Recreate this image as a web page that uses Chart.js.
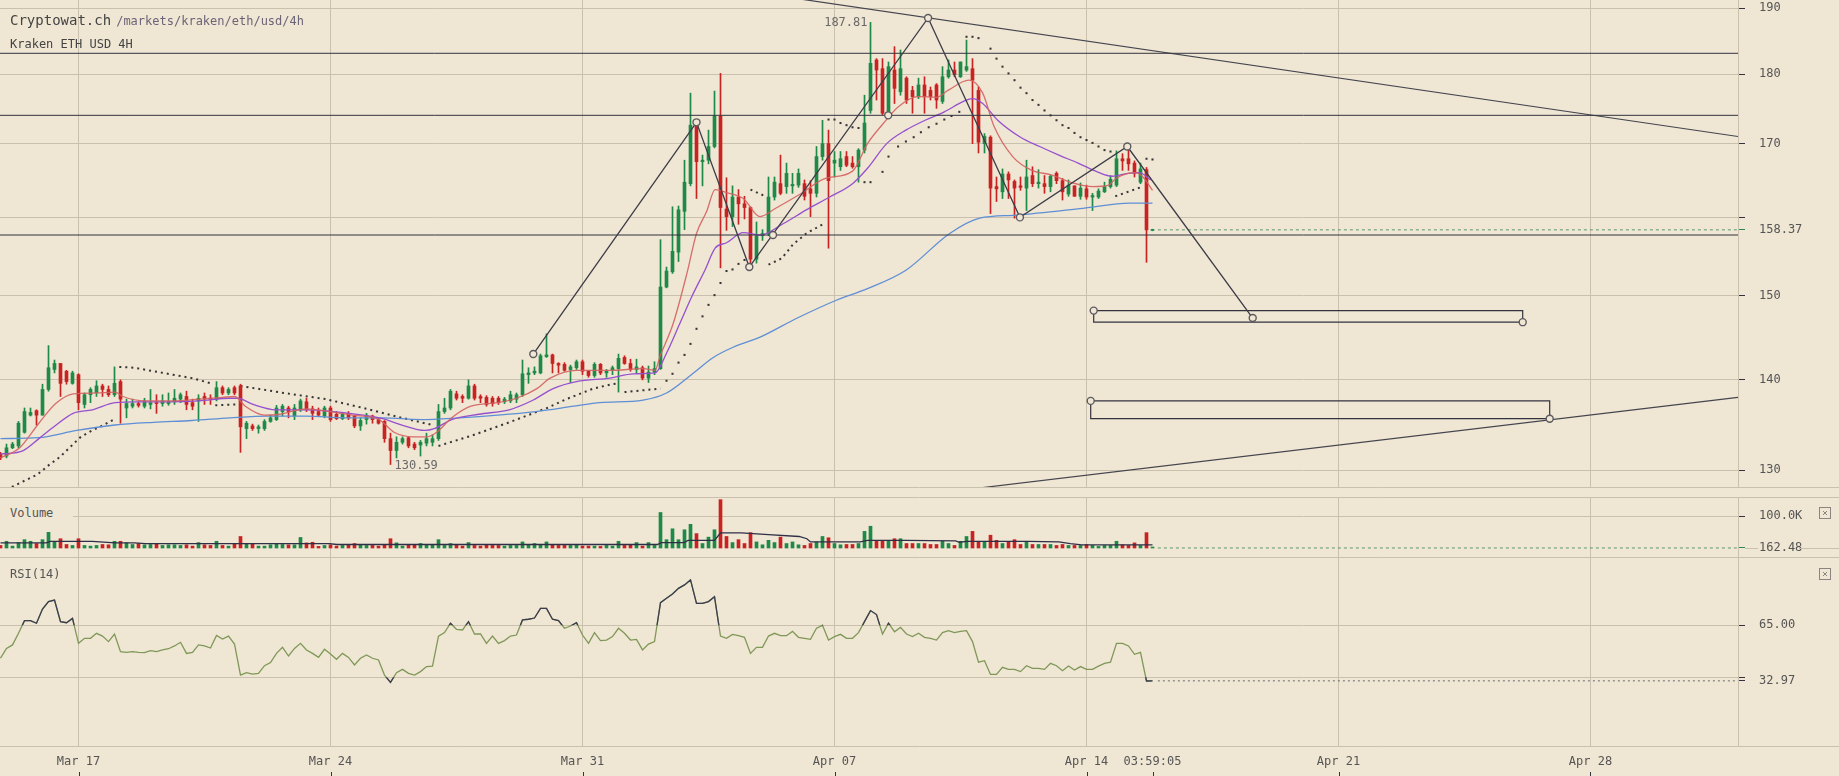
<!DOCTYPE html>
<html lang="en">
<head>
  <meta charset="UTF-8">
  <title>Kraken ETH USD 4H</title>
  <script src="https://cdn.jsdelivr.net/npm/chart.js"></script>
  <style>
    body {
      margin: 0;
      width: 1839px;
      height: 776px;
      overflow: hidden;
      position: relative;
      background-color: #efe6d3;
      font-family: "DejaVu Sans Mono", monospace;
      color: #444;
    }
    canvas { position: absolute; left: 0; }
    #priceChart { top: 0; }
    #volChart { top: 497px; }
    #rsiChart { top: 557px; }
    .label { position: absolute; white-space: nowrap; }
    #site { left: 10px; top: 10px; font-size: 14px; line-height: 20px; color: #444; }
    #site span { font-size: 12px; color: #6c6478; margin-left: 5px; }
    #pair { left: 10px; top: 34px; font-size: 12px; line-height: 20px; color: #444; }
    .pane { left: 0; width: 63px; padding-left: 10px; font-size: 12px; line-height: 16px; color: #555; background-color: #efe6d3; }
    #volLabel { top: 505px; }
    #rsiLabel { top: 566px; background: none; }
  </style>
</head>
<body>
<canvas id="priceChart" width="1839" height="488"></canvas>
<canvas id="volChart" width="1839" height="60"></canvas>
<canvas id="rsiChart" width="1839" height="219"></canvas>
<div class="label" id="site">Cryptowat.ch<span>/markets/kraken/eth/usd/4h</span></div>
<div class="label" id="pair">Kraken ETH USD 4H</div>
<div class="label pane" id="volLabel">Volume</div>
<div class="label pane" id="rsiLabel">RSI(14)</div>

<script>
// 4h candles, index 0 = Mar 15 00:00, index 13 = Mar 17 00:00
const open = [
  131.7, 131.5, 132.4, 132.6, 134.1, 136.0, 136.5, 136.0, 138.9, 141.2,
  141.9, 141.0, 139.6, 140.6, 137.2, 138.3, 138.5, 139.3, 138.9, 138.3,
  139.8, 136.8, 137.0, 137.3, 137.0, 137.2, 137.4, 137.3, 137.3, 137.5,
  137.8, 138.1, 137.4, 137.6, 138.1, 137.9, 137.8, 139.1, 138.5, 139.1,
  139.3, 134.5, 134.8, 134.5, 134.5, 135.3, 135.5, 136.4, 136.8, 135.9,
  136.6, 137.5, 136.7, 136.4, 135.9, 136.8, 136.1, 135.6, 136.2, 135.9,
  134.8, 135.5, 135.9, 135.5, 135.3, 133.4, 132.1, 133.0, 133.5, 132.8,
  132.7, 132.9, 133.0, 133.4, 136.4, 136.8, 138.4, 138.1, 137.9, 139.3,
  138.1, 138.0, 137.9, 137.9, 137.5, 137.6, 137.8, 138.3, 140.6, 140.8,
  140.8, 142.7, 142.9, 141.9, 141.8, 141.2, 141.4, 142.1, 141.0, 140.5,
  141.8, 140.8, 141.1, 141.3, 142.6, 141.9, 141.2, 141.4, 140.2, 140.9,
  141.3, 151.1, 153.0, 155.5, 160.8, 164.5, 172.6, 167.5, 167.7, 169.6,
  173.9, 161.1, 160.1, 162.7, 161.8, 161.3, 154.6, 157.6, 157.9, 162.7,
  164.5, 164.1, 164.2, 164.3, 164.5, 163.8, 163.2, 168.2, 170.0, 167.3,
  166.8, 168.2, 167.3, 166.8, 169.1, 174.7, 182.1, 180.8, 174.5, 180.6,
  177.4, 179.4, 177.6, 176.7, 178.4, 177.6, 178.4, 176.0, 179.6, 180.6,
  179.6, 180.6, 180.8, 177.6, 170.0, 170.9, 164.1, 163.4, 165.8, 164.8,
  164.2, 163.9, 165.6, 164.5, 164.5, 164.1, 165.9, 164.9, 163.1, 164.2,
  162.8, 163.8, 162.7, 162.7, 163.4, 164.1, 164.3, 167.9, 167.9, 167.3,
  164.7, 166.4, 158.30
];
const high = [
  131.9, 132.8, 133.0, 135.3, 136.8, 136.8, 136.6, 139.5, 144.0, 142.3,
  141.9, 141.1, 141.0, 140.7, 138.5, 139.1, 139.9, 139.5, 139.3, 141.5,
  140.0, 137.8, 137.8, 137.5, 137.9, 138.9, 138.3, 138.3, 138.5, 138.9,
  138.5, 138.7, 137.8, 138.3, 138.5, 138.3, 139.8, 139.3, 139.1, 139.3,
  139.5, 135.3, 135.0, 134.9, 135.5, 136.0, 137.1, 137.2, 137.0, 137.2,
  137.8, 137.9, 137.0, 136.8, 137.0, 137.0, 136.4, 136.3, 136.4, 136.0,
  135.7, 136.2, 136.0, 135.7, 135.4, 134.0, 133.6, 133.6, 133.6, 133.0,
  133.2, 134.0, 133.8, 137.2, 137.9, 138.9, 138.7, 138.3, 140.0, 139.5,
  138.3, 138.2, 138.1, 138.1, 138.0, 138.7, 138.5, 142.3, 141.4, 141.5,
  143.0, 145.4, 143.0, 142.0, 142.0, 141.7, 142.3, 142.3, 141.1, 142.0,
  141.9, 141.2, 141.6, 143.0, 142.8, 142.4, 142.4, 141.6, 141.6, 142.1,
  157.1, 153.6, 161.4, 161.5, 167.7, 177.2, 172.9, 168.4, 171.9, 177.5,
  180.1, 165.3, 164.2, 163.7, 162.8, 161.4, 159.4, 158.4, 165.4, 165.4,
  168.4, 167.3, 165.9, 166.5, 165.0, 164.9, 169.6, 173.3, 171.9, 168.9,
  168.9, 168.9, 168.2, 169.3, 176.9, 187.81, 182.3, 182.3, 181.8, 184.1,
  183.6, 179.6, 178.2, 179.4, 179.6, 178.1, 178.6, 181.1, 182.1, 181.8,
  181.8, 185.1, 182.3, 178.1, 171.4, 171.1, 165.4, 166.5, 166.1, 165.0,
  165.4, 167.7, 166.8, 166.4, 165.6, 165.7, 166.1, 165.2, 165.0, 164.2,
  164.6, 164.3, 163.2, 163.8, 164.7, 165.6, 169.0, 168.6, 169.5, 167.6,
  167.3, 166.7, 158.45
];
const low = [
  131.1, 131.3, 132.3, 132.4, 134.0, 135.9, 134.9, 136.0, 138.7, 140.8,
  138.1, 139.5, 139.5, 136.6, 136.8, 137.4, 138.1, 138.1, 138.1, 138.1,
  135.1, 135.7, 136.8, 136.9, 136.8, 136.7, 136.2, 137.0, 137.1, 137.2,
  137.4, 136.6, 136.6, 135.3, 137.2, 137.2, 137.6, 138.3, 138.3, 138.3,
  131.9, 133.4, 134.3, 134.0, 134.3, 135.2, 135.4, 135.9, 135.7, 135.5,
  136.4, 136.4, 135.5, 135.9, 135.7, 135.3, 135.5, 135.5, 135.5, 134.6,
  134.3, 135.0, 135.1, 135.0, 133.0, 130.59, 131.3, 132.8, 132.4, 132.2,
  131.5, 132.6, 132.6, 133.2, 136.2, 136.6, 137.7, 137.4, 137.8, 137.7,
  137.4, 137.0, 137.0, 137.2, 137.3, 137.4, 137.4, 138.1, 139.6, 140.6,
  140.7, 142.6, 140.8, 140.8, 141.0, 139.7, 141.2, 140.6, 140.3, 140.3,
  140.6, 140.3, 140.6, 138.6, 141.8, 141.0, 140.8, 140.0, 139.7, 140.6,
  141.2, 151.0, 152.8, 154.3, 158.4, 164.2, 162.5, 164.2, 167.2, 169.4,
  153.5, 158.3, 158.8, 159.1, 159.8, 153.6, 154.1, 157.0, 157.6, 162.3,
  163.0, 163.2, 163.2, 164.0, 162.3, 160.1, 162.7, 167.7, 156.0, 165.4,
  166.3, 166.8, 166.6, 164.7, 168.7, 174.3, 176.2, 174.1, 173.8, 175.7,
  176.9, 175.7, 174.3, 176.4, 174.3, 176.2, 175.0, 175.7, 179.4, 179.6,
  179.5, 180.4, 170.0, 168.7, 168.7, 160.5, 162.1, 162.5, 162.5, 159.9,
  163.6, 160.9, 164.1, 163.9, 163.2, 163.4, 164.5, 162.3, 162.8, 162.8,
  162.4, 162.4, 160.9, 162.5, 163.3, 163.9, 164.1, 166.3, 166.3, 165.4,
  164.5, 154.2, 158.25
];
const close = [
  131.3, 132.4, 132.8, 135.1, 136.4, 136.3, 136.0, 138.9, 141.4, 141.9,
  139.6, 139.8, 140.8, 137.4, 138.3, 138.9, 139.3, 138.9, 138.3, 139.6,
  137.8, 137.3, 137.3, 137.1, 137.6, 137.4, 137.3, 137.6, 137.5, 137.9,
  138.3, 137.2, 137.0, 137.9, 137.8, 137.8, 139.1, 138.5, 138.9, 138.5,
  134.7, 135.1, 134.5, 134.7, 135.3, 135.7, 136.8, 137.0, 136.4, 136.8,
  137.6, 136.6, 136.2, 136.0, 136.8, 135.5, 135.6, 136.1, 135.7, 134.8,
  135.4, 136.0, 135.5, 135.1, 133.4, 132.1, 133.0, 133.4, 132.6, 132.4,
  133.0, 133.4, 133.4, 136.4, 136.8, 138.7, 137.9, 137.9, 139.3, 137.9,
  137.9, 137.2, 137.3, 137.4, 137.8, 138.3, 138.3, 140.7, 140.8, 141.0,
  142.8, 142.9, 141.9, 141.7, 141.1, 141.5, 142.1, 141.0, 140.5, 141.8,
  140.8, 141.0, 141.4, 142.5, 141.9, 141.2, 141.5, 140.2, 140.9, 141.3,
  151.1, 153.1, 155.6, 161.0, 164.7, 172.6, 167.5, 167.7, 169.6, 173.9,
  161.3, 160.1, 162.7, 161.8, 161.3, 154.6, 157.6, 157.9, 162.7, 164.7,
  163.2, 165.9, 164.4, 165.9, 162.8, 163.2, 168.2, 170.0, 164.9, 167.7,
  167.9, 167.0, 166.8, 169.1, 172.9, 181.6, 180.6, 174.3, 181.1, 177.9,
  180.8, 176.2, 176.7, 178.4, 176.7, 176.7, 176.2, 179.6, 180.6, 179.9,
  181.8, 181.1, 179.1, 170.2, 171.0, 163.9, 163.8, 165.8, 165.0, 163.9,
  164.0, 165.4, 164.5, 164.7, 164.1, 165.5, 164.9, 163.4, 164.3, 162.8,
  163.9, 162.7, 162.9, 163.5, 164.1, 165.1, 167.9, 167.6, 167.2, 165.9,
  166.5, 158.37, 158.37
];
// volume in thousands of ETH
const volume = [
  8, 21, 6, 17, 26, 21, 14, 26, 49, 18,
  29, 11, 8, 29, 8, 6, 8, 11, 10, 21,
  21, 16, 11, 14, 10, 11, 14, 8, 10, 10,
  8, 10, 6, 17, 10, 8, 21, 8, 6, 14,
  36, 14, 14, 6, 6, 10, 14, 11, 10, 10,
  33, 16, 18, 5, 8, 10, 6, 8, 10, 14,
  10, 8, 8, 6, 11, 29, 16, 6, 10, 10,
  14, 10, 10, 26, 8, 14, 10, 6, 17, 8,
  6, 10, 8, 8, 6, 8, 8, 19, 11, 14,
  11, 19, 10, 8, 8, 8, 10, 6, 6, 6,
  5, 8, 6, 21, 8, 11, 17, 6, 17, 8,
  111, 26, 60, 26, 57, 74, 45, 14, 34, 57,
  151, 36, 17, 26, 14, 48, 19, 10, 24, 17,
  34, 14, 19, 10, 8, 14, 19, 36, 32, 14,
  10, 11, 11, 14, 52, 68, 21, 21, 21, 29,
  29, 14, 14, 14, 14, 11, 11, 21, 14, 8,
  21, 36, 52, 21, 19, 40, 24, 14, 19, 26,
  11, 21, 11, 11, 11, 11, 8, 11, 8, 8,
  8, 11, 8, 5, 8, 8, 21, 10, 8, 16,
  8, 48, 0.16248
];
const rsi = [
  46.0, 51.7, 53.7, 60.4, 67.7, 67.7, 66.2, 74.4, 78.7, 79.6,
  67.1, 66.5, 69.0, 54.6, 57.5, 57.5, 60.4, 58.8, 55.6, 60.0,
  49.8, 49.4, 49.8, 49.4, 49.2, 50.4, 49.8, 50.8, 51.5, 53.1,
  55.2, 48.8, 49.4, 53.7, 53.1, 51.9, 59.2, 57.1, 58.8, 54.2,
  36.3, 37.7, 36.9, 37.3, 41.7, 43.5, 48.8, 52.3, 47.3, 51.7,
  54.6, 50.8, 48.8, 46.5, 51.2, 48.5, 45.4, 48.8, 46.5, 42.1,
  46.0, 47.9, 46.0, 45.0, 36.3, 32.1, 37.7, 39.6, 37.3, 36.3,
  38.3, 41.2, 41.5, 58.8, 60.8, 66.2, 62.7, 62.3, 67.1, 60.0,
  60.0, 54.6, 58.8, 54.6, 56.2, 58.8, 59.4, 68.1, 68.5, 69.2,
  74.8, 74.8, 68.5, 67.7, 63.3, 64.6, 66.5, 59.4, 54.6, 60.8,
  56.2, 56.5, 58.5, 63.3, 60.4, 56.5, 56.9, 50.8, 54.2, 55.6,
  78.1, 80.6, 83.1, 86.3, 88.3, 91.2, 77.7, 77.7, 78.7, 81.5,
  58.8, 57.5, 59.8, 59.0, 58.1, 48.8, 52.3, 52.3, 58.8, 60.4,
  59.0, 59.0, 61.5, 58.1, 57.5, 56.9, 63.3, 65.0, 56.5, 58.5,
  59.8, 57.5, 57.5, 60.8, 67.1, 73.5, 71.2, 60.0, 66.2, 61.3,
  63.8, 60.0, 58.5, 60.4, 58.1, 57.5, 56.5, 60.8, 61.9, 60.8,
  61.5, 61.9, 55.6, 43.7, 44.6, 36.7, 36.7, 40.8, 39.6, 39.6,
  38.3, 41.7, 40.2, 40.2, 39.6, 43.1, 41.7, 38.8, 41.5, 39.2,
  41.2, 39.6, 39.6, 41.5, 43.1, 43.7, 54.6, 54.6, 53.1, 48.3,
  49.4, 32.9, 32.97
];

// moving averages (x = candle index)
const fastK = [0,3.2,6.4,9.2,12.1,15.9,19.1,20.4,24.2,28.7,33.1,37.0,39.0,40.8,44.0,46.5,51.0,54.8,58.6,63.1,65.6,68.8,71.1,72.7,75.2,78.4,82.9,86.0,89.4,91.6,96.0,101.6,107.1,109.1,109.9,112.1,114.4,116.0,117.7,119.1,121.0,123.8,126.6,129.2,133.1,137.5,142.0,144.5,147.1,149.6,152.8,156.0,157.9,161.4,163.7,165.6,168.7,171.9,175.1,178.3,182.1,184.7,185.9,189.1,190.4,192.0];
const fastV = [131.3,132.4,135.1,137.3,138.4,138.5,138.6,138.1,137.6,137.6,137.8,138.0,138.1,137.0,136.0,136.1,136.7,136.4,136.0,135.5,134.1,133.6,133.6,134.1,135.7,137.0,137.4,137.9,139.0,140.2,141.1,141.1,141.3,141.1,142.7,146.6,152.8,157.9,160.8,163.7,163.3,162.5,160.1,161.2,163.0,165.2,166.2,170.0,172.8,175.2,176.7,176.6,177.6,179.1,177.2,172.4,168.2,166.3,165.7,164.7,164.1,164.3,165.2,166.0,165.4,163.6];
const midK = [0,3.8,6.4,8.9,12.1,15.3,19.1,22.9,28.0,33.1,38.2,39.5,42.1,45.9,51.0,55.4,60.5,63.7,66.9,70.7,72.3,75.2,79.7,84.8,88.8,92.1,96.0,101.6,105.5,109.1,111.0,113.2,115.2,117.4,119.1,121.0,123.8,126.6,130.5,134.3,138.2,142.0,144.5,147.7,150.9,154.1,157.3,160.5,162.0,163.7,166.2,170.0,173.2,176.4,179.6,182.8,185.3,187.9,189.8,191.7];
const midV = [131.7,132.1,133.4,134.7,136.2,136.6,137.4,137.5,137.5,137.6,137.9,137.9,137.2,136.6,136.6,136.4,136.0,135.6,134.9,134.3,134.5,135.5,136.1,136.6,137.7,139.0,139.8,140.2,140.7,140.8,143.1,146.6,149.9,153.2,156.0,156.7,158.0,157.7,159.2,161.0,162.7,164.5,166.6,170.0,171.9,173.3,174.5,176.0,176.4,175.7,173.3,170.9,169.6,168.4,167.3,166.1,165.5,165.9,166.0,165.0];
const slowK = [0,6.4,12.7,19.1,25.5,31.9,38.2,44.6,51.0,57.4,63.7,70.1,76.5,82.9,89.2,95.6,99.9,107.1,111.0,115.5,118.8,122.1,126.6,132.8,139.4,144.5,150.9,158.2,163.2,169.3,180.4,188.2,192.0];
const slowV = [133.4,133.5,134.3,134.9,135.2,135.4,135.7,135.9,135.9,135.7,135.7,135.5,135.7,136.0,136.4,137.0,137.4,137.7,138.5,140.8,142.6,143.8,145.0,147.3,149.5,150.9,153.2,157.9,159.9,160.3,161.2,161.9,161.9];
const volAvgK = [0,7.6,8.3,15.3,19.1,22.3,24.2,54.8,56.1,109.5,110.1,113.9,114.6,119.0,120.0,123.5,128.0,133.1,134.4,135.0,143.3,144.5,150.9,159.2,159.8,161.1,171.3,176.4,178.3,180.2,192.0];
const volAvgV = [16,16,21,21,16,16,14,14,11,11,17,17,24,24,47,47,42,36,29,19,19,24,24,22,18,21,21,19,14,10,10];

// parabolic SAR: dotted runs, and single dots where each one was read
const sarRunK = [
  [1.9,3.8,6.1,8.0,9.9,11.8,13.4,15.3,17.2,19.1],
  [19.8,22.3,25.5,28.7,31.9,35.1],
  [35.8,39.2],
  [40.0,47.2,54.2,60.5,66.9,72.0],
  [73.0,78.4,84.8,91.1,94.3,98.8,101.9,103.0],
  [104.0,110.0],
  [125.0,127.2],
  [128.0,130.2,132.1,134.3,137.5],
  [185.8,190.0]
];
const sarRunV = [
  [128.2,128.8,129.5,130.5,131.4,132.6,133.6,134.3,134.9,135.6],
  [141.5,141.4,141.0,140.6,140.2,139.6],
  [137.1,137.2],
  [139.3,138.5,137.8,136.8,135.7,134.9],
  [132.6,133.7,135.2,136.8,137.8,139.0,139.5,139.6],
  [138.6,139.0],
  [163.7,162.9],
  [153.9,154.7,156.5,157.9,159.3],
  [162.8,164.0]
];
const sarDotK = [111,112,113,114,115,116,117,118,119,120,121,122,123,124,
  138,139,140,141,142,143,
  144,145,147,148,149.6,150.9,152.2,153.4,154.7,156,157.3,158.5,159.8,
  161,162,163,165,166,167,168,169,170,171,172,173,174,175,176,177,178,179,180,181,182,183,184,185,
  191,192];
const sarDotV = [139.9,140.7,142.0,142.9,144.2,146.0,147.5,148.9,150.1,151.6,153.1,153.3,154.0,154.5,
  173.4,173.4,172.9,172.6,172.3,172.2,
  164.7,164.7,166.1,168.2,169.6,170.3,170.9,171.6,172.3,172.8,173.4,173.9,174.5,
  185.6,185.6,185.4,183.8,182.3,181.1,180.1,179.1,178.0,177.2,176.2,175.5,174.7,174.0,173.3,172.6,172.2,171.5,170.9,170.5,170.1,169.6,169.1,168.9,
  167.9,167.8];

// drawn studies
const hLevels = [183.1, 174.0, 157.7];
const anchorK = [128.75, 147.95];
const anchorV = [157.7, 174.0];
const zigK = [88.8, 116.0, 124.8, 154.6, 169.9, 187.8, 208.7];
const zigV = [143.0, 173.0, 153.6, 188.5, 160.0, 169.6, 147.3];
const trendK = [[125.0, 289.58], [149.9, 289.58]];
const trendV = [[192.6, 171.0], [127.1, 138.0]];
const rectL = [182.2, 181.7];
const rectR = [253.7, 258.2];
const rectT = [148.2, 137.6];
const rectB = [146.8, 135.6];

// axes
const gridK = [13, 55, 97, 139, 181, 223, 265];
const gridText = ['Mar 17', 'Mar 24', 'Mar 31', 'Apr 07', 'Apr 14', 'Apr 21', 'Apr 28'];
const timerText = '03:59:05';
const priceTicks = [130, 140, 150, 160, 170, 180, 190];
const volTicks = [100];
const rsiTicks = [65, 35];
const hiddenLabels = [160, 35];
const rsiHi = 65, rsiLo = 35;

const bg = '#efe6d3', grid = '#c9c0ae', ink = '#33333f', txt = '#555555';
const green = '#1d8a47', red = '#c92222';
const mono = "'DejaVu Sans Mono', monospace";
const lastK = close.length - 1;
const lastPrice = close[lastK], lastVol = volume[lastK], lastRsi = rsi[lastK];
const xMin = -1 / 12, xMax = 1738 / 6 - 1 / 12;

const candleColor = c => close[c.dataIndex] >= open[c.dataIndex] ? green : red;
function pts(ks, vs) { return ks.map((k, i) => ({x: k, y: vs[i]})); }

function xAxis(labels) {
  const ticks = labels ? gridK.concat([lastK]).sort((a, b) => a - b) : gridK;
  return {
    type: 'linear', min: xMin, max: xMax, offset: false,
    afterBuildTicks: s => { s.ticks = ticks.map(v => ({value: v})); },
    afterFit: s => { s.height = labels ? 30 : 0; s.paddingLeft = 0; s.paddingRight = 0; },
    grid: { offset: false, drawTicks: false, color: c => c.tick && c.tick.value === lastK ? 'rgba(0,0,0,0)' : grid },
    border: { display: false },
    ticks: {
      display: labels, autoSkip: false, maxRotation: 0, padding: 9, color: txt, font: {family: mono, size: 12},
      callback: v => v === lastK ? timerText : gridText[gridK.indexOf(v)]
    }
  };
}

function yAxis(o) {
  return {
    type: o.type, position: 'right', min: o.min, max: o.max,
    afterBuildTicks: s => { s.ticks = o.ticks.concat([o.last]).sort((a, b) => a - b).map(v => ({value: v})); },
    afterFit: s => { s.width = 101; s.paddingTop = 0; s.paddingBottom = 0; },
    grid: {
      tickLength: 7,
      color: c => c.tick && c.tick.value === o.last ? 'rgba(0,0,0,0)' : grid,
      tickColor: c => c.tick && c.tick.value === o.last ? o.lastColor : ink
    },
    border: { color: grid },
    ticks: { autoSkip: false, padding: 14, color: txt, font: {family: mono, size: 12}, callback: o.label }
  };
}

function hline(ctx, y, x0, x1) {
  ctx.save();
  ctx.strokeStyle = grid;
  ctx.lineWidth = 1;
  ctx.beginPath();
  ctx.moveTo(x0, y);
  ctx.lineTo(x1, y);
  ctx.stroke();
  ctx.restore();
}

function closeBox(ctx, x, y) {
  ctx.save();
  ctx.strokeStyle = '#8a8580';
  ctx.lineWidth = 1;
  ctx.strokeRect(x + 0.5, y + 0.5, 11, 11);
  ctx.beginPath();
  ctx.moveTo(x + 4, y + 4); ctx.lineTo(x + 8, y + 8);
  ctx.moveTo(x + 8, y + 4); ctx.lineTo(x + 4, y + 8);
  ctx.stroke();
  ctx.restore();
}

const baseOptions = {
  responsive: false, animation: false, devicePixelRatio: 1, events: [],
  plugins: { legend: { display: false }, tooltip: { enabled: false } }
};

// ---------- price pane ----------
const lineSet = (data, color, width, order, extra) => Object.assign({
  type: 'line', data: data, borderColor: color, borderWidth: width, pointRadius: 0, order: order
}, extra || {});

const sarRuns = [];
sarRunK.forEach((ks, j) => {
  pts(ks, sarRunV[j]).forEach(p => sarRuns.push(p));
  sarRuns.push({x: ks[ks.length - 1] + 0.5, y: null});
});

const circles = pts(zigK, zigV).concat(pts(anchorK, anchorV));
rectL.forEach((l, i) => {
  circles.push({x: l, y: rectT[i]});
  circles.push({x: rectR[i], y: rectB[i]});
});

const priceSets = [
  { type: 'line', data: circles, showLine: false, order: 0,
    pointRadius: 3.5, pointBorderWidth: 1.4, pointBorderColor: '#5c5a60', pointBackgroundColor: bg },
  lineSet(pts(zigK, zigV), '#3c3c48', 1.3, 1),
  lineSet([{x: lastK + 0.9, y: lastPrice}, {x: xMax, y: lastPrice}], '#5a9a6c', 1, 1, {borderDash: [3, 3]})
];
hLevels.forEach(v => priceSets.push(lineSet([{x: xMin, y: v}, {x: xMax, y: v}], ink, 1, 1)));
trendK.forEach((ks, i) => priceSets.push(lineSet(pts(ks, trendV[i]), '#45454f', 1.2, 1)));
rectL.forEach((l, i) => priceSets.push(lineSet([
  {x: l, y: rectT[i]}, {x: rectR[i], y: rectT[i]}, {x: rectR[i], y: rectB[i]}, {x: l, y: rectB[i]}, {x: l, y: rectT[i]}
], ink, 1.2, 1)));
priceSets.push(
  lineSet(pts(fastK, fastV), 'rgba(212,96,96,0.9)', 1.3, 2, {cubicInterpolationMode: 'monotone'}),
  lineSet(pts(midK, midV), '#9650cf', 1.3, 2, {cubicInterpolationMode: 'monotone'}),
  lineSet(pts(slowK, slowV), '#5e8fd6', 1.3, 2, {cubicInterpolationMode: 'monotone'}),
  { type: 'bar', data: open.map((o, i) => ({x: i, y: [o, close[i]]})), order: 3,
    backgroundColor: candleColor, barThickness: 3, grouped: false, minBarLength: 1 },
  { type: 'bar', data: low.map((l, i) => ({x: i, y: [l, high[i]]})), order: 4,
    backgroundColor: candleColor, barThickness: 1, grouped: false, minBarLength: 1 },
  lineSet(sarRuns, '#363636', 2, 5, {borderDash: [2, 4], spanGaps: false}),
  { type: 'line', data: pts(sarDotK, sarDotV), showLine: false, order: 5,
    pointStyle: 'rect', pointRadius: 1.45, pointBorderWidth: 0, pointBackgroundColor: '#363636' }
);

const priceDecor = {
  id: 'priceDecor',
  afterDatasetsDraw(chart) {
    const {ctx, scales: {x, y}} = chart;
    const hi = Math.max(...high), lo = Math.min(...low);
    ctx.save();
    ctx.font = "12px 'DejaVu Sans Mono'";
    ctx.fillStyle = '#6a6868';
    ctx.textBaseline = 'middle';
    ctx.textAlign = 'right';
    ctx.fillText(hi.toFixed(2), x.getPixelForValue(high.indexOf(hi)) - 3, y.getPixelForValue(hi));
    ctx.textAlign = 'left';
    ctx.fillText(lo.toFixed(2), x.getPixelForValue(low.indexOf(lo)) + 4, y.getPixelForValue(lo) + 1);
    ctx.restore();
  },
  afterDraw(chart) { hline(chart.ctx, 487.5, 0, 1839); }
};

new Chart(document.getElementById('priceChart'), {
  type: 'bar',
  data: { datasets: priceSets },
  options: Object.assign({}, baseOptions, {
    layout: { autoPadding: false, padding: { left: 0, top: 0, right: 0, bottom: 1 } },
    scales: {
      x: xAxis(false),
      y: yAxis({
        type: 'logarithmic', min: 128.2, max: 191.3, ticks: priceTicks, last: lastPrice, lastColor: '#2d8a4e',
        label: v => v === lastPrice ? v.toFixed(2) : (hiddenLabels.includes(v) ? '' : String(v))
      })
    }
  }),
  plugins: [priceDecor]
});

// ---------- volume pane ----------
const volDecor = {
  id: 'volDecor',
  afterDraw(chart) {
    const ctx = chart.ctx;
    hline(ctx, 0.5, 0, 1839);
    const yb = Math.round(chart.scales.y.getPixelForValue(lastVol)) + 0.5;
    hline(ctx, yb, 1745, 1758);
    hline(ctx, yb, 1799, 1839);
    closeBox(ctx, 1819, 10);
  }
};

new Chart(document.getElementById('volChart'), {
  type: 'bar',
  data: {
    datasets: [
      lineSet(pts(volAvgK, volAvgV), '#2f2f48', 1.3, 0),
      lineSet([{x: lastK + 0.9, y: lastVol}, {x: xMax, y: lastVol}], '#5a9a6c', 1, 0, {borderDash: [3, 3]}),
      { type: 'bar', data: volume.map((v, i) => ({x: i, y: v})), order: 1,
        backgroundColor: candleColor, barThickness: 3, grouped: false, minBarLength: 1 }
    ]
  },
  options: Object.assign({}, baseOptions, {
    layout: { autoPadding: false, padding: 0 },
    scales: {
      x: xAxis(false),
      y: yAxis({
        type: 'linear', min: -28.1, max: 159.4, ticks: volTicks, last: lastVol, lastColor: '#2d8a4e',
        label: v => v === lastVol ? (v * 1000).toFixed(2) : v.toFixed(1) + 'K'
      })
    }
  }),
  plugins: [volDecor]
});

// ---------- RSI pane ----------
const bandClip = {
  id: 'bandClip',
  beforeDatasetDraw(chart, args) {
    const band = chart.data.datasets[args.index].band;
    if (!band) return;
    const {ctx, chartArea: a, scales: {y}} = chart;
    ctx.save();
    ctx.beginPath();
    if (band === 'hi') {
      const yp = y.getPixelForValue(rsiHi);
      ctx.rect(a.left, a.top, a.right - a.left, yp - a.top);
    } else {
      const yp = y.getPixelForValue(rsiLo);
      ctx.rect(a.left, yp, a.right - a.left, a.bottom - yp);
    }
    ctx.clip();
  },
  afterDatasetDraw(chart, args) {
    if (chart.data.datasets[args.index].band) chart.ctx.restore();
  }
};

const rsiDecor = {
  id: 'rsiDecor',
  afterDraw(chart) {
    const {ctx, chartArea: a, scales: {x}} = chart;
    hline(ctx, 0.5, 0, 1839);
    hline(ctx, a.bottom + 0.5, 0, 1839);
    ctx.save();
    ctx.strokeStyle = ink;
    ctx.lineWidth = 1;
    ctx.beginPath();
    gridK.concat([lastK]).forEach(k => {
      const px = Math.round(x.getPixelForValue(k)) + 0.5;
      ctx.moveTo(px, 215);
      ctx.lineTo(px, 219);
    });
    ctx.stroke();
    ctx.restore();
    closeBox(ctx, 1819, 11);
  }
};

const rsiPts = rsi.map((v, i) => ({x: i, y: v}));
new Chart(document.getElementById('rsiChart'), {
  type: 'bar',
  data: {
    datasets: [
      lineSet(rsiPts, '#3d3d52', 1.3, 0, {band: 'hi'}),
      lineSet(rsiPts, '#3d3d52', 1.3, 0, {band: 'lo'}),
      lineSet(rsiPts, '#7f9858', 1.3, 1),
      lineSet([{x: lastK + 0.9, y: lastRsi}, {x: xMax, y: lastRsi}], '#6a6a70', 1, 0, {borderDash: [2, 3]})
    ]
  },
  options: Object.assign({}, baseOptions, {
    layout: { autoPadding: false, padding: 0 },
    scales: {
      x: xAxis(true),
      y: yAxis({
        type: 'linear', min: -4.6, max: 104.4, ticks: rsiTicks, last: lastRsi, lastColor: ink,
        label: v => hiddenLabels.includes(v) ? '' : v.toFixed(2)
      })
    }
  }),
  plugins: [bandClip, rsiDecor]
});
</script>
</body>
</html>
